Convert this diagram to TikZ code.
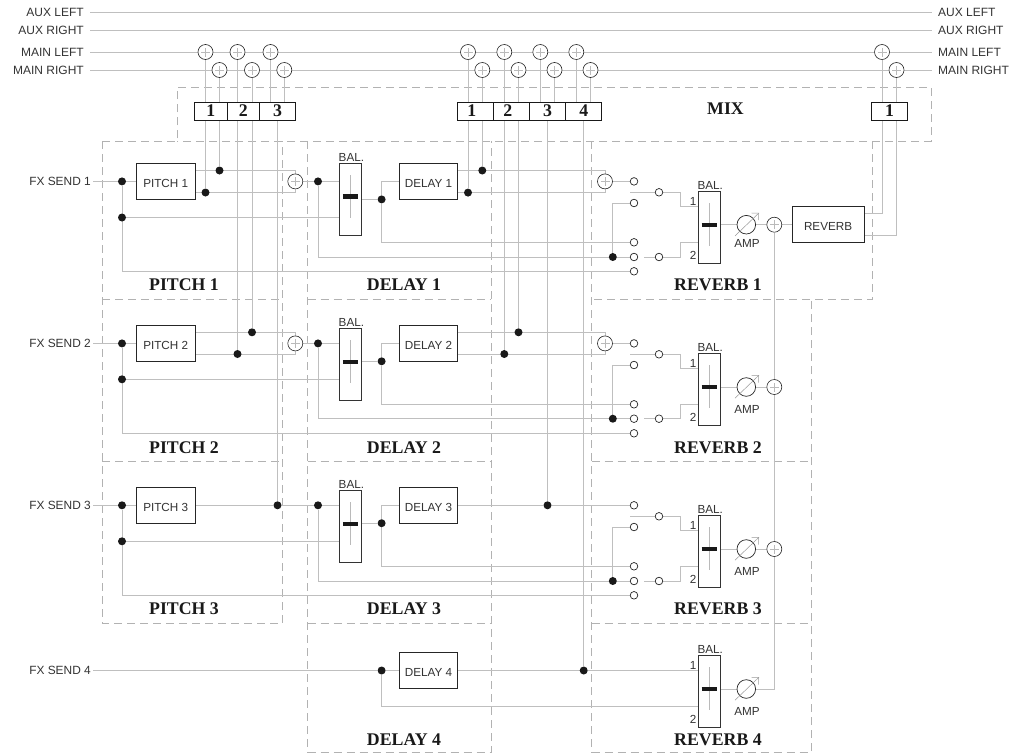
\documentclass[tikz,border=0pt]{standalone}
\usepackage{fontspec}
\setmainfont{Liberation Sans}
\newfontfamily\secfont{Liberation Serif}
\usepackage{tikz}
\usetikzlibrary{arrows.meta,backgrounds}

\begin{document}
\begin{tikzpicture}[
    x=1pt, y=-1pt,
    wire/.style={draw=black!25, line width=0.9pt},
    dashframe/.style={draw=black!30, line width=0.6pt, dash pattern=on 8pt off 5pt},
    note/.style={font=\fontsize{11.7}{13}\selectfont, text=black!80, inner sep=1.5pt},
    busname/.style={note, font=\fontsize{12}{13}\selectfont, inner sep=0pt, inner xsep=6pt, inner ysep=2pt},
    fxname/.style={note, font=\fontsize{11.9}{13}\selectfont, inner sep=0pt, inner xsep=2pt, inner ysep=2pt},
    secname/.style={font=\secfont\bfseries\fontsize{17.8}{20}\selectfont, text=black!90, inner sep=0pt},
    fxbox/.style={draw=black!85, fill=white, line width=0.8pt, minimum width=58.4pt, minimum height=36.3pt, inner sep=0pt, font=\fontsize{11.7}{13}\selectfont, text=black!80, text height=12.5pt},
    mixbox/.style={draw=black!90, fill=white, line width=0.8pt, minimum height=18pt, inner sep=0pt, font=\secfont\bfseries\fontsize{17.8}{20}\selectfont, text=black!90},
    sumnode/.style={circle, draw=black!85, fill=white, line width=0.6pt, minimum size=15pt, inner sep=0pt, path picture={
        \draw[black!27, line width=0.6pt] ([xshift=-4.5pt]path picture bounding box.center) -- ([xshift=4.5pt]path picture bounding box.center);
        \draw[black!27, line width=0.6pt] ([yshift=-4.5pt]path picture bounding box.center) -- ([yshift=4.5pt]path picture bounding box.center);}},
    ampnode/.style={circle, draw=black!85, fill=white, line width=0.7pt, minimum size=18.6pt, inner sep=0pt},
    ampline/.style={draw=black!40, line width=0.5pt, -{Straight Barb[length=5pt, width=10pt, line width=0.5pt]}},
    blob/.style={circle, fill=black!90, minimum size=8pt, inner sep=0pt},
    port/.style={circle, draw=black!85, fill=white, line width=0.7pt, minimum size=7.6pt, inner sep=0pt},
    balbox/.style={draw=black!80, fill=white, line width=0.9pt, minimum width=21.8pt, minimum height=72pt, inner sep=0pt, path picture={
        \coordinate (fadermid) at ([yshift=2.5pt]path picture bounding box.center);
        \draw[black!27, line width=0.7pt] ([yshift=21.5pt]fadermid) -- ([yshift=-21.5pt]fadermid);
        \draw[black!90, line width=4.2pt] ([xshift=-7.5pt]fadermid) -- ([xshift=7.5pt]fadermid);}}
]
    \useasboundingbox (0,0) rectangle (1015,753);

    % Bus names
    \node[busname, anchor=east] (auxl) at (90, 12.5) {AUX LEFT};
    \node[busname, anchor=east] (auxr) at (90, 30.5) {AUX RIGHT};
    \node[busname, anchor=east] (mainl) at (90, 52) {MAIN LEFT};
    \node[busname, anchor=east] (mainr) at (90, 70) {MAIN RIGHT};
    \node[busname, anchor=west] (auxlend) at (932, 12.5) {AUX LEFT};
    \node[busname, anchor=west] (auxrend) at (932, 30.5) {AUX RIGHT};
    \node[busname, anchor=west] (mainlend) at (932, 52) {MAIN LEFT};
    \node[busname, anchor=west] (mainrend) at (932, 70) {MAIN RIGHT};

    % Summing points on the main bus
    \node[sumnode] (mixpl1) at (205.5, 52) {};
    \node[sumnode] (mixpr1) at (219.5, 70) {};
    \node[sumnode] (mixpl2) at (237.5, 52) {};
    \node[sumnode] (mixpr2) at (252, 70) {};
    \node[sumnode] (mixpl3) at (270.5, 52) {};
    \node[sumnode] (mixpr3) at (284.3, 70) {};
    \node[sumnode] (mixdl1) at (468, 52) {};
    \node[sumnode] (mixdr1) at (482.3, 70) {};
    \node[sumnode] (mixdl2) at (504.3, 52) {};
    \node[sumnode] (mixdr2) at (518.5, 70) {};
    \node[sumnode] (mixdl3) at (540.3, 52) {};
    \node[sumnode] (mixdr3) at (554.5, 70) {};
    \node[sumnode] (mixdl4) at (576.3, 52) {};
    \node[sumnode] (mixdr4) at (590.5, 70) {};
    \node[sumnode] (mixrl) at (882, 52) {};
    \node[sumnode] (mixrr) at (896.5, 70) {};

    % Mix strip
    \node[mixbox, minimum width=32.5pt] (strp1) at (210.75, 111) {1};
    \node[mixbox, minimum width=32.5pt] (strp2) at (243.25, 111) {2};
    \node[mixbox, minimum width=36pt] (strp3) at (277.5, 111) {3};
    \node[mixbox, minimum width=36pt] (strd1) at (475.3, 111) {\hspace*{-7pt}1};
    \node[mixbox, minimum width=36pt] (strd2) at (511.3, 111) {\hspace*{-7pt}2};
    \node[mixbox, minimum width=36.3pt] (strd3) at (547.5, 111) {3};
    \node[mixbox, minimum width=36pt] (strd4) at (583.7, 111) {4};
    \node[mixbox, minimum width=36.4pt] (strr) at (889.5, 111) {1};
    \node[secname] (mixname) at (725.5, 109) {MIX};

    % Row 1
    \node[fxname, anchor=east] (fx1) at (93, 181.4) {FX SEND 1};
    \node[blob] (ina1) at (122, 181.4) {};
    \node[blob] (inb1) at (122, 217.5) {};
    \node[fxbox] (pitch1) at (165.7, 181.4) {PITCH 1};
    \node[blob] (dotpa1) at (219.5, 170.5) {};
    \node[blob] (dotpb1) at (205.5, 192.5) {};
    \node[sumnode] (sump1) at (295.3, 181.4) {};
    \node[blob] (drv1) at (318, 181.4) {};
    \node[balbox] (bald1) at (350.4, 199) {};
    \node[note, anchor=south] (balnamed1) at (351.4, 163) {BAL.};
    \node[blob] (post1) at (381.6, 199.4) {};
    \node[fxbox] (delay1) at (428.5, 181.4) {DELAY 1};
    \node[blob] (dotda1) at (482.3, 170.5) {};
    \node[blob] (dotdb1) at (468, 192.6) {};
    \node[sumnode] (sumd1) at (605, 181.4) {};
    \node[port] (porta1) at (634, 181.4) {};
    \node[port] (portb1) at (634, 203) {};
    \node[port] (portc1) at (634, 242.3) {};
    \node[port] (portd1) at (634, 257) {};
    \node[port] (porte1) at (634, 271.3) {};
    \node[blob] (dotr1) at (612.8, 257) {};
    \node[port] (portf1) at (659, 192.3) {};
    \node[port] (portg1) at (659, 257) {};
    \coordinate (swa1) at (630, 192.3);
    \coordinate (swb1) at (644.3, 257);
    \coordinate (ina-r1) at (698.3, 206.7);
    \coordinate (inb-r1) at (698.3, 242.3);
    \node[balbox] (balr1) at (709.2, 227.3) {};
    \node[note, anchor=south] (balnamer1) at (710.2, 191.3) {BAL.};
    \node[note] (onea1) at (693, 201) {1};
    \node[note] (twoa1) at (693, 255) {2};
    \node[ampnode] (amp1) at (746.3, 224.7) {};
    \node[note] (ampname1) at (747, 243.5) {AMP};
    \node[sumnode] (sumr1) at (774.3, 224.7) {};
    \node[fxbox, minimum width=72.3pt] (reverb) at (828.1, 224.7) {REVERB};
    \coordinate (outa) at (864.3, 213.3);
    \coordinate (outb) at (864.3, 235.3);

    % Row 2
    \node[fxname, anchor=east] (fx2) at (93, 343.4) {FX SEND 2};
    \node[blob] (ina2) at (122, 343.4) {};
    \node[blob] (inb2) at (122, 379.3) {};
    \node[fxbox] (pitch2) at (165.7, 343.4) {PITCH 2};
    \node[blob] (dotpa2) at (252, 332.3) {};
    \node[blob] (dotpb2) at (237.5, 354) {};
    \node[sumnode] (sump2) at (295.3, 343.4) {};
    \node[blob] (drv2) at (318, 343.4) {};
    \node[balbox] (bald2) at (350.4, 364.2) {};
    \node[note, anchor=south] (balnamed2) at (351.4, 328.2) {BAL.};
    \node[blob] (post2) at (381.6, 361.3) {};
    \node[fxbox] (delay2) at (428.5, 343.4) {DELAY 2};
    \node[blob] (dotda2) at (518.5, 332.3) {};
    \node[blob] (dotdb2) at (504.3, 354) {};
    \node[sumnode] (sumd2) at (605, 343.4) {};
    \node[port] (porta2) at (634, 343.4) {};
    \node[port] (portb2) at (634, 365) {};
    \node[port] (portc2) at (634, 404.3) {};
    \node[port] (portd2) at (634, 418.7) {};
    \node[port] (porte2) at (634, 433.3) {};
    \node[blob] (dotr2) at (612.8, 418.7) {};
    \node[port] (portf2) at (659, 354.3) {};
    \node[port] (portg2) at (659, 418.7) {};
    \coordinate (swa2) at (630, 354.3);
    \coordinate (swb2) at (644.3, 418.7);
    \coordinate (ina-r2) at (698.3, 368.7);
    \coordinate (inb-r2) at (698.3, 404.3);
    \node[balbox] (balr2) at (709.2, 389.3) {};
    \node[note, anchor=south] (balnamer2) at (710.2, 353.3) {BAL.};
    \node[note] (onea2) at (693, 363) {1};
    \node[note] (twoa2) at (693, 417) {2};
    \node[ampnode] (amp2) at (746.3, 387) {};
    \node[note] (ampname2) at (747, 409) {AMP};
    \node[sumnode] (sumr2) at (774.3, 387) {};

    % Row 3
    \node[fxname, anchor=east] (fx3) at (93, 505.3) {FX SEND 3};
    \node[blob] (ina3) at (122, 505.3) {};
    \node[blob] (inb3) at (122, 541.3) {};
    \node[fxbox] (pitch3) at (165.7, 505.3) {PITCH 3};
    \node[blob] (dotp3) at (277.5, 505.3) {};
    \node[blob] (drv3) at (318, 505.3) {};
    \node[balbox] (bald3) at (350.4, 526.2) {};
    \node[note, anchor=south] (balnamed3) at (351.4, 490.2) {BAL.};
    \node[blob] (post3) at (381.6, 523.2) {};
    \node[fxbox] (delay3) at (428.5, 505.3) {DELAY 3};
    \node[blob] (dotd3) at (547.5, 505.3) {};
    \node[port] (porta3) at (634, 505.3) {};
    \node[port] (portb3) at (634, 527) {};
    \node[port] (portc3) at (634, 566.3) {};
    \node[port] (portd3) at (634, 581) {};
    \node[port] (porte3) at (634, 595.3) {};
    \node[blob] (dotr3) at (612.8, 581) {};
    \node[port] (portf3) at (659, 516.3) {};
    \node[port] (portg3) at (659, 581) {};
    \coordinate (swa3) at (630, 516.3);
    \coordinate (swb3) at (644.3, 581);
    \coordinate (ina-r3) at (698.3, 530.7);
    \coordinate (inb-r3) at (698.3, 566.3);
    \node[balbox] (balr3) at (709.2, 551.3) {};
    \node[note, anchor=south] (balnamer3) at (710.2, 515.3) {BAL.};
    \node[note] (onea3) at (693, 525) {1};
    \node[note] (twoa3) at (693, 579) {2};
    \node[ampnode] (amp3) at (746.3, 549) {};
    \node[note] (ampname3) at (747, 571) {AMP};
    \node[sumnode] (sumr3) at (774.3, 549) {};

    % Row 4
    \node[fxname, anchor=east] (fx4) at (93, 670.5) {FX SEND 4};
    \node[blob] (post4) at (381.6, 670.5) {};
    \node[fxbox] (delay4) at (428.5, 670.5) {DELAY 4};
    \node[blob] (dotd4) at (583.7, 670.5) {};
    \coordinate (ina-r4) at (698.3, 670.5);
    \coordinate (inb-r4) at (698.3, 706.5);
    \node[balbox] (balr4) at (709.2, 691.2) {};
    \node[note, anchor=south] (balnamer4) at (710.2, 655.2) {BAL.};
    \node[note] (onea4) at (693, 665) {1};
    \node[note] (twoa4) at (693, 719) {2};
    \node[ampnode] (amp4) at (746.3, 689) {};
    \node[note] (ampname4) at (747, 711.7) {AMP};

    % Section names
    \node[secname] (namep1) at (184, 285) {PITCH 1};
    \node[secname] (namep2) at (184, 447.7) {PITCH 2};
    \node[secname] (namep3) at (184, 609) {PITCH 3};
    \node[secname] (named1) at (404, 285) {DELAY 1};
    \node[secname] (named2) at (404, 447.7) {DELAY 2};
    \node[secname] (named3) at (404, 609) {DELAY 3};
    \node[secname] (named4) at (404, 740) {DELAY 4};
    \node[secname] (namer1) at (718, 285) {REVERB 1};
    \node[secname] (namer2) at (718, 447.7) {REVERB 2};
    \node[secname] (namer3) at (718, 609) {REVERB 3};
    \node[secname] (namer4) at (718, 740) {REVERB 4};

    % Amp arrows
    \draw[ampline] (735, 235.9) -- (759, 212.9);
    \draw[ampline] (735, 398.2) -- (759, 375.2);
    \draw[ampline] (735, 560.2) -- (759, 537.2);
    \draw[ampline] (735, 700.2) -- (759, 677.2);

    \begin{scope}[on background layer]
        % Dashed sections
        \draw[dashframe] (102, 141) -- (177.3, 141) -- (177.3, 87) -- (931, 87) -- (931, 141) -- (177.3, 141);
        \draw[dashframe] (102, 141) -- (102, 623) -- (282.5, 623) -- (282.5, 141);
        \draw[dashframe] (102, 299) -- (282.5, 299);
        \draw[dashframe] (102, 461.5) -- (282.5, 461.5);
        \draw[dashframe] (307.5, 141) -- (307.5, 752) -- (491, 752) -- (491, 141);
        \draw[dashframe] (307.5, 299) -- (491, 299);
        \draw[dashframe] (307.5, 461.5) -- (491, 461.5);
        \draw[dashframe] (307.5, 623) -- (491, 623);
        \draw[dashframe] (591.5, 141) -- (591.5, 752) -- (811.5, 752) -- (811.5, 299);
        \draw[dashframe] (872.5, 141) -- (872.5, 299) -- (591.5, 299);
        \draw[dashframe] (591.5, 461.5) -- (811.5, 461.5);
        \draw[dashframe] (591.5, 623) -- (811.5, 623);

        % Buses
        \draw[wire] (auxl) -- (auxlend);
        \draw[wire] (auxr) -- (auxrend);
        \draw[wire] (mainl) -- (mainlend);
        \draw[wire] (mainr) -- (mainrend);

        % Main bus to row dots
        \draw[wire] (mixpl1) -- (dotpb1);
        \draw[wire] (mixpr1) -- (dotpa1);
        \draw[wire] (mixpl2) -- (dotpb2);
        \draw[wire] (mixpr2) -- (dotpa2);
        \draw[wire] (mixpl3) -- (mixpl3 |- strp3.north);
        \draw[wire] (mixpr3) -- (mixpr3 |- strp3.north);
        \draw[wire] (strp3) -- (dotp3);
        \draw[wire] (mixdl1) -- (dotdb1);
        \draw[wire] (mixdr1) -- (dotda1);
        \draw[wire] (mixdl2) -- (dotdb2);
        \draw[wire] (mixdr2) -- (dotda2);
        \draw[wire] (mixdl3) -- (mixdl3 |- strd3.north);
        \draw[wire] (mixdr3) -- (mixdr3 |- strd3.north);
        \draw[wire] (strd3) -- (dotd3);
        \draw[wire] (mixdl4) -- (mixdl4 |- strd4.north);
        \draw[wire] (mixdr4) -- (mixdr4 |- strd4.north);
        \draw[wire] (strd4) -- (dotd4);
        \draw[wire] (outa) -| (mixrl);
        \draw[wire] (outb) -| (mixrr);

        % Row 1
        \draw[wire] (fx1) -- (ina1) -- (pitch1);
        \draw[wire] (ina1) |- (porte1);
        \draw[wire] (inb1) -- (bald1.west |- inb1);
        \draw[wire] (pitch1.east |- dotpa1) -| (sump1);
        \draw[wire] (pitch1.east |- dotpb1) -| (sump1);
        \draw[wire] (sump1) -- (drv1) -- (bald1.west |- drv1);
        \draw[wire] (drv1) |- (portd1);
        \draw[wire] (bald1.east |- post1) -- (post1);
        \draw[wire] (post1) |- (delay1);
        \draw[wire] (post1) |- (portc1);
        \draw[wire] (delay1.east |- dotda1) -| (sumd1);
        \draw[wire] (delay1.east |- dotdb1) -| (sumd1);
        \draw[wire] (sumd1) -- (porta1);
        \draw[wire] (dotr1) |- (portb1);
        \draw[wire] (swa1) -- (portf1) -| ([xshift=-18pt]ina-r1) -- (ina-r1);
        \draw[wire] (swb1) -- (portg1) -| ([xshift=-18pt]inb-r1) -- (inb-r1);
        \draw[wire] (balr1.east |- amp1) -- (amp1) -- (sumr1) -- (reverb);
        \draw[wire] (sumr1) -- (sumr2) -- (sumr3);

        % Row 2
        \draw[wire] (fx2) -- (ina2) -- (pitch2);
        \draw[wire] (ina2) |- (porte2);
        \draw[wire] (inb2) -- (bald2.west |- inb2);
        \draw[wire] (pitch2.east |- dotpa2) -| (sump2);
        \draw[wire] (pitch2.east |- dotpb2) -| (sump2);
        \draw[wire] (sump2) -- (drv2) -- (bald2.west |- drv2);
        \draw[wire] (drv2) |- (portd2);
        \draw[wire] (bald2.east |- post2) -- (post2);
        \draw[wire] (post2) |- (delay2);
        \draw[wire] (post2) |- (portc2);
        \draw[wire] (delay2.east |- dotda2) -| (sumd2);
        \draw[wire] (delay2.east |- dotdb2) -| (sumd2);
        \draw[wire] (sumd2) -- (porta2);
        \draw[wire] (dotr2) |- (portb2);
        \draw[wire] (swa2) -- (portf2) -| ([xshift=-18pt]ina-r2) -- (ina-r2);
        \draw[wire] (swb2) -- (portg2) -| ([xshift=-18pt]inb-r2) -- (inb-r2);
        \draw[wire] (balr2.east |- amp2) -- (amp2) -- (sumr2);

        % Row 3
        \draw[wire] (fx3) -- (ina3) -- (pitch3);
        \draw[wire] (ina3) |- (porte3);
        \draw[wire] (inb3) -- (bald3.west |- inb3);
        \draw[wire] (pitch3) -- (dotp3) -- (drv3) -- (bald3.west |- drv3);
        \draw[wire] (drv3) |- (portd3);
        \draw[wire] (bald3.east |- post3) -- (post3);
        \draw[wire] (post3) |- (delay3);
        \draw[wire] (post3) |- (portc3);
        \draw[wire] (delay3) -- (dotd3) -- (porta3);
        \draw[wire] (dotr3) |- (portb3);
        \draw[wire] (swa3) -- (portf3) -| ([xshift=-18pt]ina-r3) -- (ina-r3);
        \draw[wire] (swb3) -- (portg3) -| ([xshift=-18pt]inb-r3) -- (inb-r3);
        \draw[wire] (balr3.east |- amp3) -- (amp3) -- (sumr3);

        % Row 4
        \draw[wire] (fx4) -- (post4) -- (delay4);
        \draw[wire] (post4) |- (inb-r4);
        \draw[wire] (delay4) -- (dotd4) -- (ina-r4);
        \draw[wire] (balr4.east |- amp4) -- (amp4) -| (sumr3);
    \end{scope}
\end{tikzpicture}
\end{document}
